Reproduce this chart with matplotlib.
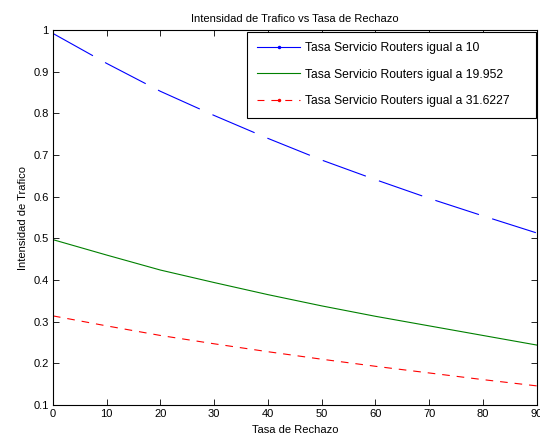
import matplotlib
matplotlib.use("Agg")
import matplotlib.pyplot as plt
from matplotlib.lines import Line2D

plt.rcParams['font.family'] = ['Liberation Sans', 'DejaVu Sans']
plt.rcParams['font.size'] = 8
plt.rcParams['lines.scale_dashes'] = False

# valores
tasa_rechazo = [0, 10, 20, 30, 40, 50, 60, 70, 80, 90]
int_10 = [0.992, 0.920, 0.853, 0.795, 0.740, 0.688, 0.641, 0.596, 0.554, 0.513]
int_19 = [0.497, 0.460, 0.424, 0.394, 0.365, 0.338, 0.313, 0.290, 0.267, 0.244]
int_31 = [0.314, 0.290, 0.267, 0.247, 0.228, 0.210, 0.193, 0.177, 0.161, 0.146]

etiquetas = ["Tasa Servicio Routers igual a 10",
             "Tasa Servicio Routers igual a 19.952",
             "Tasa Servicio Routers igual a 31.6227"]

fig = plt.figure(figsize=(5.4, 4.36), dpi=100)
ax = fig.add_axes([0.098, 0.071, 0.896, 0.860])

ax.plot(tasa_rechazo, int_10, color="blue", lw=0.8, dashes=(33, 10))
ax.plot(tasa_rechazo, int_19, color="#008000", lw=0.8)
ax.plot(tasa_rechazo, int_31, color="red", lw=0.8, dashes=(5.5, 5))

handles = [Line2D([], [], color="blue", lw=0.8, marker=".", markersize=3),
           Line2D([], [], color="#008000", lw=0.8),
           Line2D([], [], color="red", lw=0.8, dashes=(5, 5), marker=".", markersize=3)]
leg = ax.legend(handles, etiquetas, loc="upper left", mode="expand",
                bbox_to_anchor=(0.401, 0.0, 0.597, 0.996),
                borderaxespad=0, fancybox=False,
                edgecolor="black", framealpha=1, handlelength=3.5,
                handletextpad=0.4, labelspacing=1.2, borderpad=0.87,
                fontsize=8.7)
leg.get_frame().set_linewidth(0.8)

ax.set_xlim(0, 90)
ax.set_ylim(0.1, 1)
ax.set_xticks(range(0, 91, 10))
ax.set_yticks([0.1, 0.2, 0.3, 0.4, 0.5, 0.6, 0.7, 0.8, 0.9, 1])
ax.set_yticklabels(["0.1", "0.2", "0.3", "0.4", "0.5", "0.6", "0.7", "0.8", "0.9", "1"])
ax.tick_params(direction="in", top=True, right=True, length=4, width=0.6, pad=3)
for s in ax.spines.values():
    s.set_linewidth(0.8)

ax.set_title("Intensidad de Trafico vs Tasa de Rechazo", fontsize=8, pad=6)
ax.set_xlabel("Tasa de Rechazo", labelpad=4)
ax.set_ylabel("Intensidad de Trafico", labelpad=4)

fig.savefig("out.png", dpi=100)
